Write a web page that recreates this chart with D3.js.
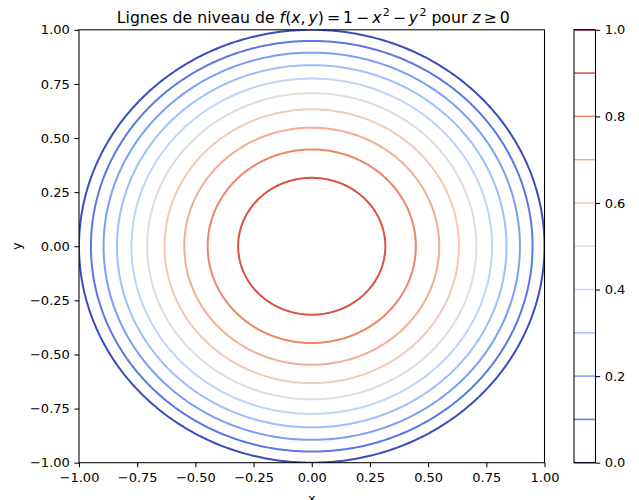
<!DOCTYPE html>
<html>
<head>
<meta charset="utf-8">
<script src="https://cdn.jsdelivr.net/npm/d3@7/dist/d3.min.js"></script>
<style>
  html, body { margin: 0; padding: 0; background: #fff; }
  svg { display: block; }
  text { font-family: "DejaVu Sans", sans-serif; fill: #000; }
</style>
</head>
<body>
<svg id="chart" width="639" height="500"></svg>
<script>
// Contour levels of z = f(x, y) and the axis ticks
const levels = [0.0, 0.1, 0.2, 0.3, 0.4, 0.5, 0.6, 0.7, 0.8, 0.9, 1.0];
const xTicks = [-1.0, -0.75, -0.5, -0.25, 0.0, 0.25, 0.5, 0.75, 1.0];
const yTicks = [-1.0, -0.75, -0.5, -0.25, 0.0, 0.25, 0.5, 0.75, 1.0];
const cbTicks = [0.0, 0.2, 0.4, 0.6, 0.8, 1.0];
const xDomain = [-1, 1];
const yDomain = [-1, 1];

// Surface being contoured
const f = (x, y) => 1 - x * x - y * y;

// Sampling grid (slightly wider than the view so the z = 0 ring closes)
const gridN = 220;
const gridMin = -1.1, gridMax = 1.1;

// coolwarm colormap control colours (evenly spaced on [0, 1])
const coolwarm = ["#3b4cc0", "#4d68d7", "#6282ea", "#779af7", "#8db0fe", "#a3c2ff",
  "#b8d0f9", "#ccd9ee", "#dddddd", "#ecd3c6", "#f5c4ad", "#f7b194", "#f49a7b",
  "#ec7f63", "#de604d", "#cb3e38", "#b40426"];

const color = d3.scaleLinear()
  .domain(coolwarm.map((_, i) => i / (coolwarm.length - 1)))
  .range(coolwarm)
  .interpolate(d3.interpolateRgb);

const svg = d3.select("#chart");

// Plot area
const plot = { left: 79, right: 544.5, top: 29.8, bottom: 462.7 };
const x = d3.scaleLinear().domain(xDomain).range([plot.left, plot.right]);
const y = d3.scaleLinear().domain(yDomain).range([plot.bottom, plot.top]);

svg.append("defs").append("clipPath").attr("id", "plotClip")
  .append("rect")
  .attr("x", plot.left).attr("y", plot.top)
  .attr("width", plot.right - plot.left).attr("height", plot.bottom - plot.top);

// Sample the surface
const step = (gridMax - gridMin) / (gridN - 1);
const values = new Array(gridN * gridN);
for (let j = 0; j < gridN; j++) {
  const gy = gridMin + j * step;
  for (let i = 0; i < gridN; i++) {
    const gx = gridMin + i * step;
    values[j * gridN + i] = f(gx, gy);
  }
}

const contours = d3.contours().size([gridN, gridN]).thresholds(levels)(values);

// Grid coordinates -> data coordinates -> pixels
const gridToData = c => gridMin + (c - 0.5) * step;
const projection = d3.geoTransform({
  point: function (gx, gy) {
    this.stream.point(x(gridToData(gx)), y(gridToData(gy)));
  }
});
const path = d3.geoPath(projection);

svg.append("g")
  .attr("clip-path", "url(#plotClip)")
  .selectAll("path")
  .data(contours.filter(c => c.coordinates.length > 0))
  .join("path")
  .attr("d", path)
  .attr("fill", "none")
  .attr("stroke", d => color(d.value))
  .attr("stroke-width", 2)
  .attr("stroke-linejoin", "round");

// Axes
const tickFont = "13px";
const tickLen = 4.6, tickPad = 4.6;
const fmt2 = d3.format(".2f");

const xAxis = svg.append("g")
  .attr("transform", `translate(0,${plot.bottom})`)
  .call(d3.axisBottom(x).tickValues(xTicks).tickFormat(fmt2)
    .tickSize(tickLen).tickPadding(tickPad).tickSizeOuter(0));
const yAxis = svg.append("g")
  .attr("transform", `translate(${plot.left},0)`)
  .call(d3.axisLeft(y).tickValues(yTicks).tickFormat(fmt2)
    .tickSize(tickLen).tickPadding(tickPad).tickSizeOuter(0));

[xAxis, yAxis].forEach(g => {
  g.select(".domain").remove();
  g.selectAll(".tick line").attr("stroke", "#000").attr("stroke-width", 1.05);
  g.selectAll(".tick text").style("font-size", tickFont)
    .style("font-family", "'DejaVu Sans', sans-serif").attr("fill", "#000");
});
xAxis.selectAll(".tick text").attr("dy", "0.8em");

// Spines
svg.append("rect")
  .attr("x", plot.left).attr("y", plot.top)
  .attr("width", plot.right - plot.left).attr("height", plot.bottom - plot.top)
  .attr("fill", "none").attr("stroke", "#000").attr("stroke-width", 1.05);

// Axis labels
svg.append("text")
  .attr("x", (plot.left + plot.right) / 2).attr("y", 502.5)
  .attr("text-anchor", "middle").style("font-size", tickFont)
  .text("x");
svg.append("text")
  .attr("transform", `translate(20.5,${(plot.top + plot.bottom) / 2}) rotate(-90)`)
  .attr("text-anchor", "middle").style("font-size", tickFont)
  .text("y");

// Title with math notation: [text, kind, space before (em)]
const title = svg.append("text")
  .attr("x", (plot.left + plot.right) / 2 + 1.5).attr("y", 23)
  .attr("text-anchor", "middle")
  .style("font-size", "15.7px");
const opSpace = 0.19;
const parts = [
  ["Lignes de niveau de ", "", 0],
  ["f", "i", 0], ["(", "", 0], ["x", "i", 0], [",", "", 0], ["y", "i", opSpace], [")", "", 0],
  ["=", "", opSpace], ["1", "", opSpace], ["\u2212", "", opSpace],
  ["x", "i", opSpace], ["2", "s", 0.08],
  ["\u2212", "", opSpace], ["y", "i", opSpace], ["2", "s", 0.08],
  [" pour ", "", 0], ["z", "i", 0], ["\u2265", "", opSpace], ["0", "", opSpace]
];
const supRise = 7.5;
let raised = false;
parts.forEach(([t, k, sp]) => {
  const ts = title.append("tspan").text(t);
  if (sp) ts.attr("dx", (sp * 15.7).toFixed(2));
  if (k === "i") ts.style("font-style", "italic");
  if (k === "s") {
    ts.style("font-size", "11px").attr("dy", -supRise);
    raised = true;
  } else if (raised) {
    ts.attr("dy", supRise);
    raised = false;
  }
});

// Colorbar
const cb = { left: 574, right: 595.5, top: plot.top, bottom: plot.bottom };
const cy = d3.scaleLinear().domain([0, 1]).range([cb.bottom, cb.top]);

svg.append("g")
  .selectAll("line")
  .data(levels)
  .join("line")
  .attr("x1", cb.left).attr("x2", cb.right)
  .attr("y1", d => cy(d)).attr("y2", d => cy(d))
  .attr("stroke", d => color(d))
  .attr("stroke-width", 1.5);

svg.append("rect")
  .attr("x", cb.left).attr("y", cb.top)
  .attr("width", cb.right - cb.left).attr("height", cb.bottom - cb.top)
  .attr("fill", "none").attr("stroke", "#000").attr("stroke-width", 1.05);

const cAxis = svg.append("g")
  .attr("transform", `translate(${cb.right},0)`)
  .call(d3.axisRight(cy).tickValues(cbTicks).tickFormat(d3.format(".1f"))
    .tickSize(tickLen).tickPadding(tickPad).tickSizeOuter(0));
cAxis.select(".domain").remove();
cAxis.selectAll(".tick line").attr("stroke", "#000").attr("stroke-width", 1.05);
cAxis.selectAll(".tick text").style("font-size", tickFont)
  .style("font-family", "'DejaVu Sans', sans-serif").attr("fill", "#000");
</script>
</body>
</html>
